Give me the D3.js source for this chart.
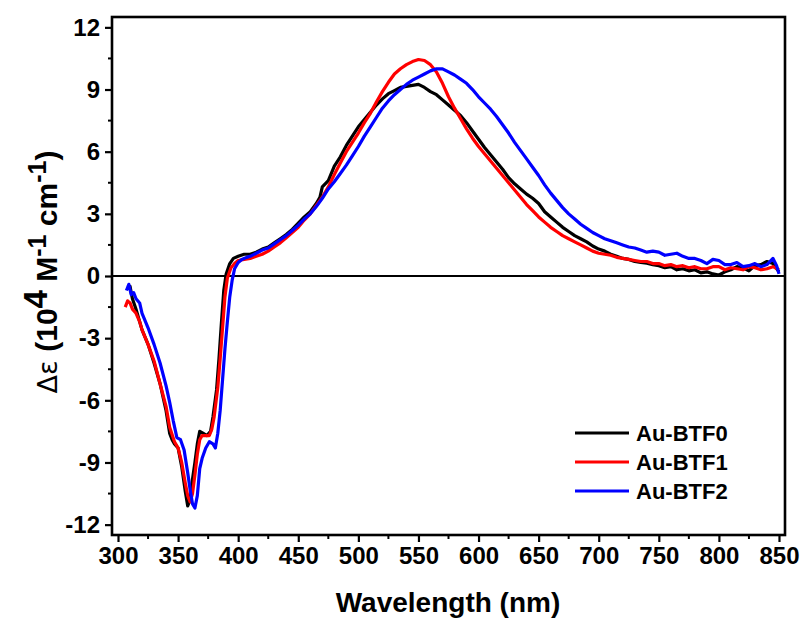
<!DOCTYPE html>
<html><head><meta charset="utf-8">
<script src="https://cdn.jsdelivr.net/npm/d3@7"></script>
<style>body{margin:0;background:#fff}svg{display:block}text{font-family:"Liberation Sans",Arial,sans-serif}</style>
</head><body><svg id="c" width="801" height="620"></svg>
<script>
const seriesNames = ["Au-BTF0","Au-BTF1","Au-BTF2"];
const seriesColors = ["#000000","#ff0000","#0000ff"];
const xTicks = [300,350,400,450,500,550,600,650,700,750,800,850];
const yTicks = [-12,-9,-6,-3,0,3,6,9,12];

const wl0 = [308,310,312,315,318,320,325,330,335,340,343,345,347,350,353,356,358,360,362,364,366,368,371,374,377,379,382,384,386,388,390,393,396,400,405,410,415,420,425,430,435,440,445,450,455,460,465,468,470,475,480,485,490,495,500,505,510,515,520,525,530,535,540,545,550,555,560,565,570,575,580,585,590,595,600,605,610,615,620,625,630,635,640,645,650,655,660,665,670,675,680,685,690,695,700,705,710,715,720,725,730,735,740,745,750,755,760,765,770,775,780,785,790,795,800,805,810,815,820,825,830,835,840,845,850];
const val0 = [-0.6,-0.5,-1.1,-1.6,-2.2,-2.6,-3.3,-4.2,-5.2,-6.5,-7.6,-7.9,-8.1,-8.3,-9.2,-10.4,-11.1,-10.8,-9.8,-9.0,-8.1,-7.5,-7.6,-7.7,-7.5,-6.8,-5.5,-4.0,-2.3,-0.7,0.1,0.6,0.85,0.95,1.05,1.05,1.15,1.3,1.4,1.6,1.8,2.0,2.25,2.55,2.85,3.1,3.5,3.8,4.3,4.6,5.3,5.75,6.3,6.75,7.2,7.55,7.9,8.25,8.55,8.8,8.95,9.1,9.15,9.2,9.25,9.1,8.9,8.75,8.5,8.25,8.0,7.75,7.4,7.0,6.6,6.2,5.85,5.5,5.15,4.75,4.45,4.2,3.95,3.75,3.5,3.1,2.85,2.6,2.35,2.15,1.95,1.8,1.65,1.45,1.3,1.2,1.05,0.95,0.85,0.8,0.7,0.65,0.62,0.55,0.5,0.4,0.45,0.3,0.35,0.25,0.3,0.15,0.2,0.1,0.05,0.2,0.3,0.45,0.4,0.25,0.5,0.55,0.7,0.6,0.2];

const wl1 = [306,308,310,312,315,318,320,325,330,335,340,343,347,350,353,356,358,360,362,364,366,368,370,373,376,378,380,383,385,387,389,391,394,397,400,405,410,415,420,425,430,435,440,445,450,455,460,465,470,475,480,485,490,495,500,505,510,515,520,525,530,535,540,545,550,555,560,565,570,575,580,585,590,595,600,605,610,615,620,625,630,635,640,645,650,655,660,665,670,675,680,685,690,695,700,705,710,715,720,725,730,735,740,745,750,755,760,765,770,775,780,785,790,795,800,805,810,815,820,825,830,835,840,845,850];
const val1 = [-1.5,-1.2,-1.3,-1.6,-1.8,-2.2,-2.6,-3.3,-4.1,-5.2,-6.3,-7.3,-8.0,-8.3,-9.0,-10.0,-10.6,-10.9,-10.5,-9.6,-8.6,-7.9,-7.7,-7.7,-7.7,-7.4,-6.8,-5.4,-4.0,-2.5,-1.0,-0.1,0.4,0.6,0.75,0.8,0.85,0.95,1.05,1.2,1.4,1.6,1.85,2.1,2.35,2.7,3.0,3.4,3.8,4.3,4.9,5.45,6.0,6.45,6.9,7.4,7.85,8.4,8.9,9.35,9.75,10.0,10.2,10.35,10.45,10.4,10.2,9.85,9.3,8.65,8.1,7.6,7.1,6.65,6.25,5.9,5.55,5.2,4.85,4.5,4.15,3.8,3.45,3.15,2.85,2.6,2.35,2.15,1.95,1.8,1.65,1.5,1.35,1.2,1.1,1.05,1.0,0.9,0.85,0.8,0.75,0.7,0.7,0.6,0.6,0.5,0.55,0.45,0.5,0.4,0.45,0.35,0.35,0.45,0.45,0.3,0.4,0.35,0.3,0.45,0.4,0.3,0.35,0.45,0.3];

const wl2 = [307,309,311,313,315,318,320,325,330,335,340,343,346,349,352,355,358,360,362,364,366,368,370,373,376,379,381,383,385,387,389,391,393,395,397,400,403,407,410,415,420,425,430,435,440,445,450,455,460,465,470,475,480,485,490,495,500,505,510,515,520,525,530,535,540,545,550,555,560,565,570,575,580,585,590,595,600,605,610,615,620,625,630,635,640,645,650,655,660,665,670,675,680,685,690,695,700,705,710,715,720,725,730,735,740,745,750,755,760,765,770,775,780,785,790,795,800,805,810,815,820,825,830,835,840,845,848,850];
const val2 = [-0.7,-0.4,-0.9,-0.8,-1.1,-1.3,-1.8,-2.5,-3.3,-4.2,-5.3,-6.1,-7.0,-7.8,-7.9,-8.4,-9.5,-10.3,-11.0,-11.2,-10.6,-9.3,-8.8,-8.3,-8.0,-8.1,-8.3,-7.6,-6.5,-5.0,-3.5,-2.2,-1.0,-0.2,0.35,0.65,0.8,0.9,0.95,1.1,1.25,1.35,1.55,1.75,1.95,2.2,2.45,2.75,3.0,3.35,3.75,4.2,4.55,4.95,5.35,5.8,6.25,6.75,7.2,7.65,8.1,8.45,8.75,9.0,9.25,9.45,9.6,9.75,9.9,10.0,10.0,9.85,9.7,9.5,9.3,9.0,8.65,8.35,8.05,7.7,7.3,6.9,6.45,6.05,5.65,5.25,4.85,4.4,4.0,3.65,3.3,3.0,2.75,2.5,2.3,2.1,1.95,1.8,1.7,1.6,1.5,1.4,1.35,1.25,1.15,1.2,1.15,1.0,1.05,1.1,0.95,0.85,0.85,0.75,0.6,0.8,0.75,0.55,0.55,0.65,0.45,0.5,0.6,0.45,0.55,0.85,0.5,0.1];

const wls = [wl0,wl1,wl2];
const vals = [val0,val1,val2];

const svg = d3.select("#c");
const L=112,R=785,T=17,B=535;
const x = d3.scaleLinear().domain([295,855]).range([L,R]);
const y = d3.scaleLinear().domain([-12.5,12.5]).range([B,T]);

// zero line
svg.append("line").attr("x1",L).attr("x2",R).attr("y1",y(0)).attr("y2",y(0)).attr("stroke","#000").attr("stroke-width",2.2);

const line = d3.line().x(d=>x(d[0])).y(d=>y(d[1])).curve(d3.curveLinear);
for (let s=0;s<3;s++){
  const pts = wls[s].map((w,i)=>[w,vals[s][i]]);
  svg.append("path").attr("d",line(pts)).attr("fill","none").attr("stroke",seriesColors[s]).attr("stroke-width",3.2).attr("stroke-linejoin","round");
}

// frame
svg.append("rect").attr("x",L).attr("y",T).attr("width",R-L).attr("height",B-T).attr("fill","none").attr("stroke","#000").attr("stroke-width",2.6);

const tickFont = 24;
const fmt = d => String(d);
// bottom axis
const xMinor = d3.range(325,851,50);
const gx = svg.append("g").attr("transform",`translate(0,${B})`);
gx.call(d3.axisBottom(x).tickValues(xTicks).tickSize(7).tickPadding(5).tickFormat(fmt));
gx.select(".domain").remove();
gx.selectAll(".tick line").attr("stroke-width",2.2);
gx.selectAll(".tick text").attr("font-size",tickFont).attr("font-weight","bold").attr("fill","#000").attr("font-family","'Liberation Sans',Arial,sans-serif");
svg.append("g").selectAll("line").data(xMinor).join("line").attr("x1",d=>x(d)).attr("x2",d=>x(d)).attr("y1",B).attr("y2",B+4).attr("stroke","#000").attr("stroke-width",2);

// left axis
const yMinor = d3.range(-10.5,12,3);
const gy = svg.append("g").attr("transform",`translate(${L},0)`);
gy.call(d3.axisLeft(y).tickValues(yTicks).tickSize(7).tickPadding(5).tickFormat(fmt));
gy.select(".domain").remove();
gy.selectAll(".tick line").attr("stroke-width",2.2);
gy.selectAll(".tick text").attr("font-size",tickFont).attr("font-weight","bold").attr("fill","#000").attr("font-family","'Liberation Sans',Arial,sans-serif");
svg.append("g").selectAll("line").data(yMinor).join("line").attr("x1",L-4).attr("x2",L).attr("y1",d=>y(d)).attr("y2",d=>y(d)).attr("stroke","#000").attr("stroke-width",2);

// x title
svg.append("text").attr("x",448).attr("y",612).attr("text-anchor","middle").attr("font-size",28).attr("font-weight","bold").text("Wavelength (nm)");

// y title
const yt = svg.append("text").attr("transform",`translate(57,${272}) rotate(-90)`).attr("text-anchor","middle").attr("font-size",30).attr("font-weight","bold");
yt.append("tspan").attr("font-weight","normal").attr("font-family","'DejaVu Sans',sans-serif").attr("font-size",27).text("Δε ");
yt.append("tspan").text("(10");
yt.append("tspan").attr("dy",-10).attr("font-size",33).text("4");
yt.append("tspan").attr("dy",10).text(" M");
yt.append("tspan").attr("dy",-11).attr("font-size",25).text("-1");
yt.append("tspan").attr("dy",11).text(" cm");
yt.append("tspan").attr("dy",-11).attr("font-size",25).text("-1");
yt.append("tspan").attr("dy",11).text(")");

// legend
const lg = svg.append("g");
seriesNames.forEach((n,i)=>{
  const yy = 433 + i*29;
  lg.append("line").attr("x1",575).attr("x2",629).attr("y1",yy).attr("y2",yy).attr("stroke",seriesColors[i]).attr("stroke-width",3);
  lg.append("text").attr("x",636).attr("y",yy+8).attr("font-size",22).attr("font-weight","bold").text(n);
});
</script></body></html>
